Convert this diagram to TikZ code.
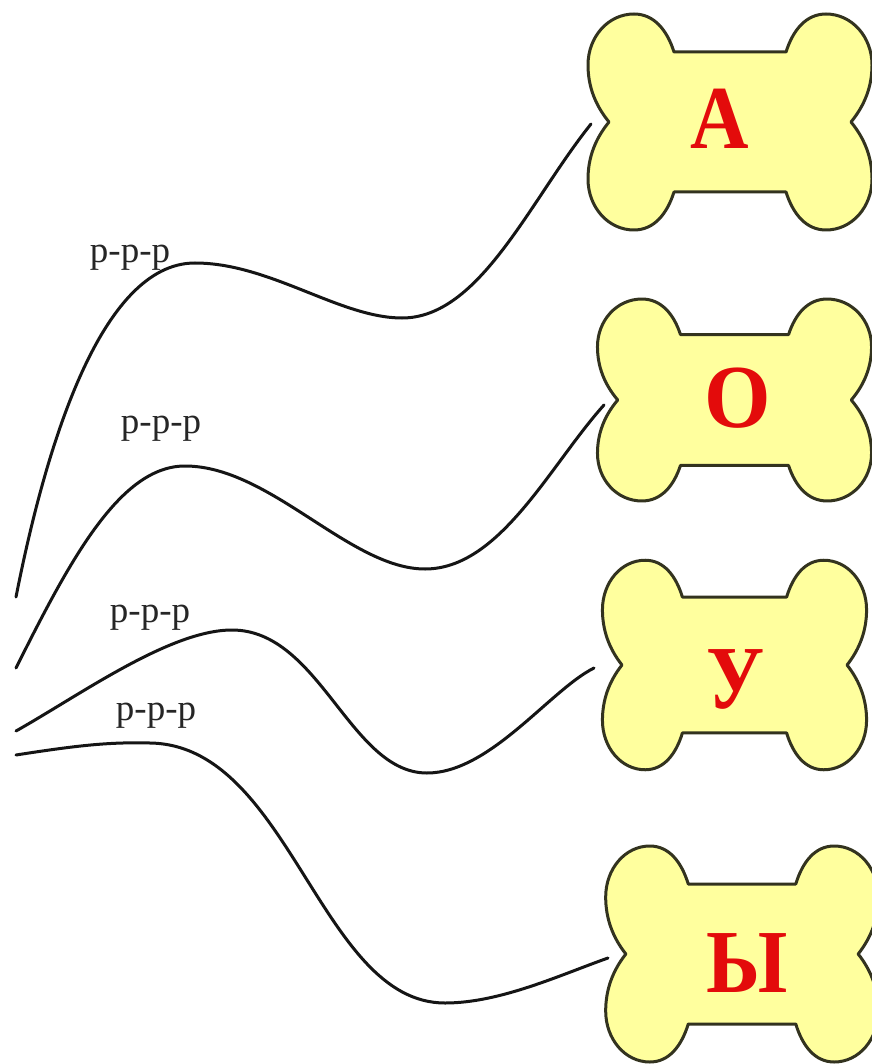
\documentclass[tikz,border=0pt]{standalone}
\usepackage{graphicx}
\usepackage{fontspec}
\setmainfont{Liberation Serif}
\definecolor{bonefill}{HTML}{FFFF9E}
\definecolor{boneline}{HTML}{33331F}
\definecolor{letterred}{HTML}{E30B0B}
\definecolor{wirecol}{HTML}{151515}
\tikzset{
  bone/.style={draw=boneline,fill=bonefill,line width=3pt,line join=round},
  letter/.style={text=letterred,font=\fontsize{90}{90}\selectfont\bfseries,anchor=base,inner sep=0pt},
  wire/.style={draw=wirecol,line width=3pt,line cap=round},
  sound/.style={text=black!85,font=\fontsize{37}{37}\selectfont,anchor=base,inner sep=0pt}
}
\newcommand{\boneshape}[4]{%
  \path[bone,shift={(#1,#2)},xscale=#3,yscale=#4]
    (-56,-70) -- (56,-70)
    .. controls (63,-92) and (76,-108) .. (96,-108)
    .. controls (122,-108) and (142,-85) .. (142,-57)
    .. controls (142,-36) and (135,-17) .. (121,0)
    .. controls (135,17) and (142,36) .. (142,57)
    .. controls (142,85) and (122,108) .. (96,108)
    .. controls (76,108) and (63,92) .. (56,70)
    -- (-56,70)
    .. controls (-63,92) and (-76,108) .. (-96,108)
    .. controls (-122,108) and (-142,85) .. (-142,57)
    .. controls (-142,36) and (-135,17) .. (-121,0)
    .. controls (-135,-17) and (-142,-36) .. (-142,-57)
    .. controls (-142,-85) and (-122,-108) .. (-96,-108)
    .. controls (-76,-108) and (-63,-92) .. (-56,-70)
    -- cycle;%
}
\begin{document}
\begin{tikzpicture}[x=1pt,y=-1pt]
\useasboundingbox (0,0) rectangle (871,1064);
\fill[white] (0,0) rectangle (871,1064);

\boneshape{730}{122}{1}{1}
\boneshape{734.5}{400}{0.965}{0.935}
\boneshape{734.5}{665}{0.93}{0.97}
\boneshape{742}{954}{0.96}{1}

\node[letter] (la) at (720,149) {\scalebox{.9}[1]{А}};
\node[letter] (lo) at (738,427) {\scalebox{.95}[1]{О}};
\node[letter] (lu) at (736,708) {\scalebox{.88}[1]{У}};
\node[letter] (ly) at (747,992) {\scalebox{.92}[1]{Ы}};

\coordinate (a0) at (16,597);
\coordinate (a1) at (591,124);
\coordinate (o0) at (16,668);
\coordinate (o1) at (604,405);
\coordinate (u0) at (16,731);
\coordinate (u1) at (594,668);
\coordinate (y0) at (16,755);
\coordinate (y1) at (608,958);

\draw[wire] (a0) .. controls (45,450) and (100,263) .. (195,263)
  .. controls (270,263) and (340,318) .. (402,318)
  .. controls (480,318) and (530,200) .. (a1);
\draw[wire] (o0) .. controls (70,560) and (120,466) .. (185,466)
  .. controls (270,466) and (350,569) .. (425,569)
  .. controls (500,569) and (550,465) .. (o1);
\draw[wire] (u0) .. controls (80,695) and (170,630) .. (232,630)
  .. controls (320,630) and (350,773) .. (427,773)
  .. controls (490,773) and (550,690) .. (u1);
\draw[wire] (y0) .. controls (80,745) and (110,742) .. (150,743)
  .. controls (290,745) and (320,1003) .. (445,1003)
  .. controls (500,1003) and (560,975) .. (y1);

\node[sound] (s1) at (130,262) {р-р-р};
\node[sound] (s2) at (161,433) {р-р-р};
\node[sound] (s3) at (150,622) {р-р-р};
\node[sound] (s4) at (156,720) {р-р-р};
\end{tikzpicture}
\end{document}
